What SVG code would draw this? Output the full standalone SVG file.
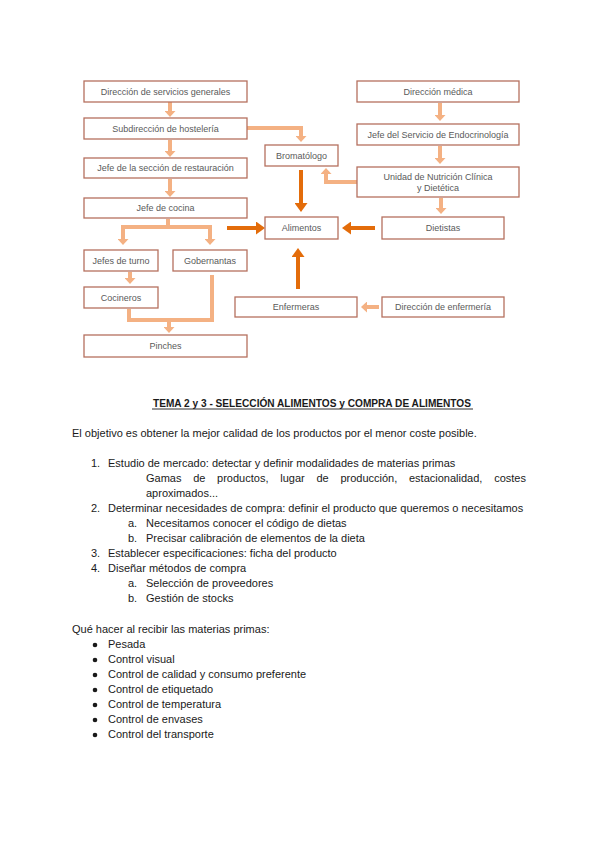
<svg xmlns="http://www.w3.org/2000/svg" width="600" height="848" viewBox="0 0 600 848">
<defs>
<style>
.box{fill:#fff;stroke:#b5705f;stroke-width:1.3}
.bt{font-family:"Liberation Sans",Arial,sans-serif;font-size:9px;fill:#5a5a5a;text-anchor:middle}
.lc{fill:none;stroke:#f4b183;stroke-width:4}
.dc{fill:none;stroke:#e36c0a;stroke-width:4}
.tx{font-family:"Liberation Sans",Arial,sans-serif;font-size:11px;fill:#1a1a1a}
</style>
<marker id="la" markerUnits="userSpaceOnUse" viewBox="0 0 6 11" markerWidth="6" markerHeight="11" refX="0" refY="5.5" orient="auto"><path d="M0,0 L6,5.5 L0,11 z" fill="#f4b183"/></marker>
<marker id="da" markerUnits="userSpaceOnUse" viewBox="0 0 9 13" markerWidth="9" markerHeight="13" refX="0" refY="6.5" orient="auto"><path d="M0,0 L9,6.5 L0,13 z" fill="#e36c0a"/></marker>
</defs>
<rect width="600" height="848" fill="#fff"/>
<g id="connectors">
<path class="lc" d="M170,102 V111" marker-end="url(#la)"/>
<path class="lc" d="M170,140 V151" marker-end="url(#la)"/>
<path class="lc" d="M170,179 V191" marker-end="url(#la)"/>
<path class="lc" d="M247,128 H301 V136" marker-end="url(#la)"/>
<path class="lc" d="M357,182 H326 V174" marker-end="url(#la)"/>
<path class="lc" d="M440,103 V115" marker-end="url(#la)"/>
<path class="lc" d="M440,146 V158" marker-end="url(#la)"/>
<path class="lc" d="M441,198 V208" marker-end="url(#la)"/>
<path class="lc" d="M168,219 V227"/>
<path class="lc" d="M121,227 H212"/>
<path class="lc" d="M123,225 V239" marker-end="url(#la)"/>
<path class="lc" d="M210,225 V239" marker-end="url(#la)"/>
<path class="lc" d="M130,272 V278" marker-end="url(#la)"/>
<path class="lc" d="M129,309 V320 H212 V275"/>
<path class="lc" d="M169,318 V327" marker-end="url(#la)"/>
<path class="lc" d="M379,307 H367" marker-end="url(#la)"/>
<path class="dc" d="M301,170 V203" marker-end="url(#da)"/>
<path class="dc" d="M227,228 H256" marker-end="url(#da)"/>
<path class="dc" d="M375,228 H351" marker-end="url(#da)"/>
<path class="dc" d="M298,289 V257" marker-end="url(#da)"/>
</g>
<g id="dsg"><rect class="box" x="84" y="81" width="163" height="21"/><text class="bt" x="165.5" y="94.8">Dirección de servicios generales</text></g>
<g id="sub"><rect class="box" x="84" y="118" width="163" height="21"/><text class="bt" x="165.5" y="131.8">Subdirección de hostelería</text></g>
<g id="jsr"><rect class="box" x="84" y="158" width="163" height="20"/><text class="bt" x="165.5" y="171.3">Jefe de la sección de restauración</text></g>
<g id="jc"><rect class="box" x="84" y="198" width="163" height="20"/><text class="bt" x="165.5" y="211.3">Jefe de cocina</text></g>
<g id="jt"><rect class="box" x="84" y="250" width="74" height="21"/><text class="bt" x="121" y="263.8">Jefes de turno</text></g>
<g id="gob"><rect class="box" x="173" y="250" width="74" height="21"/><text class="bt" x="210" y="263.8">Gobernantas</text></g>
<g id="coc"><rect class="box" x="84" y="287" width="74" height="21"/><text class="bt" x="121" y="300.8">Cocineros</text></g>
<g id="pin"><rect class="box" x="84" y="335" width="163" height="22"/><text class="bt" x="165.5" y="349.3">Pinches</text></g>
<g id="bro"><rect class="box" x="265" y="145" width="73" height="21"/><text class="bt" x="301.5" y="158.8">Bromatólogo</text></g>
<g id="ali"><rect class="box" x="265" y="217" width="73" height="22"/><text class="bt" x="301.5" y="231.3">Alimentos</text></g>
<g id="dm"><rect class="box" x="357" y="81" width="162" height="21"/><text class="bt" x="438" y="94.8">Dirección médica</text></g>
<g id="jse"><rect class="box" x="357" y="124" width="162" height="21"/><text class="bt" x="438" y="137.8">Jefe del Servicio de Endocrinología</text></g>
<g id="unc"><rect class="box" x="357" y="167" width="162" height="30"/><text class="bt" x="438" y="179.5">Unidad de Nutrición Clínica</text><text class="bt" x="438" y="190.5">y Dietética</text></g>
<g id="die"><rect class="box" x="382" y="217" width="122" height="22"/><text class="bt" x="443" y="231.3">Dietistas</text></g>
<g id="enf"><rect class="box" x="235" y="297" width="122" height="20"/><text class="bt" x="296" y="310.3">Enfermeras</text></g>
<g id="denf"><rect class="box" x="382" y="297" width="122" height="20"/><text class="bt" x="443" y="310.3">Dirección de enfermería</text></g>
<g id="text">
<text class="tx" x="153" y="407" font-weight="bold" textLength="318" lengthAdjust="spacingAndGlyphs">TEMA 2 y 3 - SELECCIÓN ALIMENTOS y COMPRA DE ALIMENTOS</text>
<line x1="152" y1="409" x2="473" y2="409" stroke="#1a1a1a" stroke-width="0.9"/>
<text class="tx" x="72" y="437">El objetivo es obtener la mejor calidad de los productos por el menor coste posible.</text>
<text class="tx" x="91" y="467">1.</text><text class="tx" x="108" y="467">Estudio de mercado: detectar y definir modalidades de materias primas</text>
<text class="tx" y="482"><tspan x="146">Gamas</tspan><tspan x="193.2">de</tspan><tspan x="217.1">productos,</tspan><tspan x="280.3">lugar</tspan><tspan x="316.5">de</tspan><tspan x="340.4">producción,</tspan><tspan x="409">estacionalidad,</tspan><tspan x="494.2">costes</tspan></text>
<text class="tx" x="146" y="497">aproximados...</text>
<text class="tx" x="91" y="512">2.</text><text class="tx" x="108" y="512">Determinar necesidades de compra: definir el producto que queremos o necesitamos</text>
<text class="tx" x="128" y="527">a.</text><text class="tx" x="146" y="527">Necesitamos conocer el código de dietas</text>
<text class="tx" x="128" y="542">b.</text><text class="tx" x="146" y="542">Precisar calibración de elementos de la dieta</text>
<text class="tx" x="91" y="557">3.</text><text class="tx" x="108" y="557">Establecer especificaciones: ficha del producto</text>
<text class="tx" x="91" y="572">4.</text><text class="tx" x="108" y="572">Diseñar métodos de compra</text>
<text class="tx" x="128" y="587">a.</text><text class="tx" x="146" y="587">Selección de proveedores</text>
<text class="tx" x="128" y="602">b.</text><text class="tx" x="146" y="602">Gestión de stocks</text>
<text class="tx" x="72" y="633">Qué hacer al recibir las materias primas:</text>
<g>
<circle cx="95" cy="645" r="2.3" fill="#1a1a1a"/><text class="tx" x="108" y="648">Pesada</text>
<circle cx="95" cy="660" r="2.3" fill="#1a1a1a"/><text class="tx" x="108" y="663">Control visual</text>
<circle cx="95" cy="675" r="2.3" fill="#1a1a1a"/><text class="tx" x="108" y="678">Control de calidad y consumo preferente</text>
<circle cx="95" cy="690" r="2.3" fill="#1a1a1a"/><text class="tx" x="108" y="693">Control de etiquetado</text>
<circle cx="95" cy="705" r="2.3" fill="#1a1a1a"/><text class="tx" x="108" y="708">Control de temperatura</text>
<circle cx="95" cy="720" r="2.3" fill="#1a1a1a"/><text class="tx" x="108" y="723">Control de envases</text>
<circle cx="95" cy="735" r="2.3" fill="#1a1a1a"/><text class="tx" x="108" y="738">Control del transporte</text>
</g>
</g>
</svg>
